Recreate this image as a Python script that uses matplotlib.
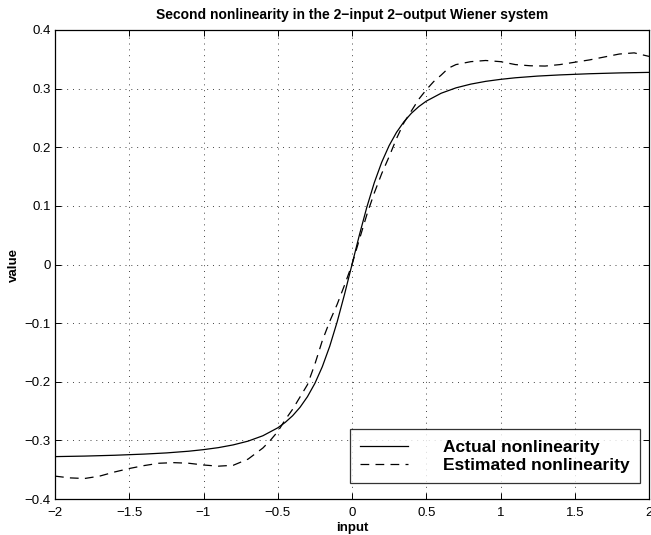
import matplotlib
matplotlib.use("Agg")
import matplotlib.pyplot as plt

plt.rcParams['font.family'] = ['Liberation Sans', 'DejaVu Sans']

# Actual nonlinearity
x_actual = [-2.0, -1.8, -1.6, -1.4, -1.25, -1.1, -1.0, -0.9, -0.8, -0.7, -0.6, -0.5,
            -0.45, -0.4, -0.35, -0.3, -0.25, -0.2, -0.15, -0.1, -0.05, 0.0,
            0.05, 0.1, 0.15, 0.2, 0.25, 0.3, 0.35, 0.4, 0.45, 0.5,
            0.6, 0.7, 0.8, 0.9, 1.0, 1.1, 1.25, 1.4, 1.6, 1.8, 2.0]
y_actual = [-0.3277, -0.3268, -0.3254, -0.3234, -0.3214, -0.3185, -0.3158, -0.3124,
            -0.3077, -0.3013, -0.2921, -0.2786, -0.2694, -0.2580, -0.2436, -0.2255,
            -0.2028, -0.1744, -0.1395, -0.0979, -0.0506, 0.0,
            0.0506, 0.0979, 0.1395, 0.1744, 0.2028, 0.2255, 0.2436, 0.2580, 0.2694,
            0.2786, 0.2921, 0.3013, 0.3077, 0.3124, 0.3158, 0.3185, 0.3214, 0.3234,
            0.3254, 0.3268, 0.3277]

# Estimated nonlinearity
x_est = [-2.0, -1.9, -1.8, -1.7, -1.6, -1.5, -1.4, -1.3, -1.2, -1.1, -1.0, -0.9,
         -0.8, -0.7, -0.6, -0.55, -0.5, -0.45, -0.4, -0.35, -0.3, -0.25, -0.2,
         -0.15, -0.1, -0.05, 0.0, 0.05, 0.1, 0.15, 0.2, 0.25, 0.3, 0.35, 0.4,
         0.45, 0.5, 0.55, 0.6, 0.65, 0.7, 0.8, 0.9, 1.0, 1.1, 1.2, 1.3, 1.4,
         1.5, 1.6, 1.7, 1.8, 1.9, 2.0]
y_est = [-0.361, -0.364, -0.365, -0.361, -0.354, -0.348, -0.343, -0.339, -0.338,
         -0.339, -0.342, -0.344, -0.3425, -0.332, -0.313, -0.300, -0.285, -0.265,
         -0.247, -0.226, -0.205, -0.170, -0.130, -0.097, -0.068, -0.035, 0.0,
         0.043, 0.085, 0.122, 0.155, 0.184, 0.215, 0.242, 0.262, 0.282, 0.298,
         0.312, 0.323, 0.335, 0.341, 0.346, 0.348, 0.346, 0.341, 0.339, 0.3385,
         0.341, 0.345, 0.349, 0.354, 0.359, 0.361, 0.355]

x_ticks = [-2, -1.5, -1, -0.5, 0, 0.5, 1, 1.5, 2]
x_tick_labels = ['\u22122', '\u22121.5', '\u22121', '\u22120.5', '0', '0.5', '1', '1.5', '2']
y_ticks = [-0.4, -0.3, -0.2, -0.1, 0, 0.1, 0.2, 0.3, 0.4]
y_tick_labels = ['\u22120.4', '\u22120.3', '\u22120.2', '\u22120.1', '0', '0.1', '0.2', '0.3', '0.4']

title = 'Second nonlinearity in the 2\u2212input 2\u2212output Wiener system'
labels = ['Actual nonlinearity', 'Estimated nonlinearity']

fig = plt.figure(figsize=(6.51, 5.35), dpi=100)
ax = fig.add_axes([55 / 651, 36 / 535, 594 / 651, 469 / 535])

ax.plot(x_actual, y_actual, color='black', lw=0.9, label=labels[0])
ax.plot(x_est, y_est, color='black', lw=0.9, linestyle=(0, (7, 5)), label=labels[1])

ax.set_xlim(-2, 2)
ax.set_ylim(-0.4, 0.4)
ax.set_xticks(x_ticks)
ax.set_xticklabels(x_tick_labels)
ax.set_yticks(y_ticks)
ax.set_yticklabels(y_tick_labels)
ax.tick_params(direction='in', length=4, width=0.7, top=True, right=True,
               labelsize=9.5, pad=3)
ax.tick_params(axis='x', pad=6)
ax.grid(True, color='#444444', lw=0.7, linestyle=(0, (1, 5)))
for s in ax.spines.values():
    s.set_linewidth(0.9)

ax.set_title(title, fontsize=10, fontweight='bold', pad=8)
ax.set_xlabel('input', fontsize=9.5, fontweight='bold', labelpad=2)
ax.set_ylabel('value', fontsize=9.5, fontweight='bold', labelpad=3)

leg = ax.legend(loc='lower right', bbox_to_anchor=(1.0 - 9 / 594, 16 / 469),
                prop={'weight': 'bold', 'size': 12.5}, frameon=True, fancybox=False,
                edgecolor='black', handlelength=2.75, borderpad=0.6,
                labelspacing=0.15, handletextpad=2.0, borderaxespad=0)
leg.get_frame().set_linewidth(0.9)

fig.savefig('out.png', dpi=100)
